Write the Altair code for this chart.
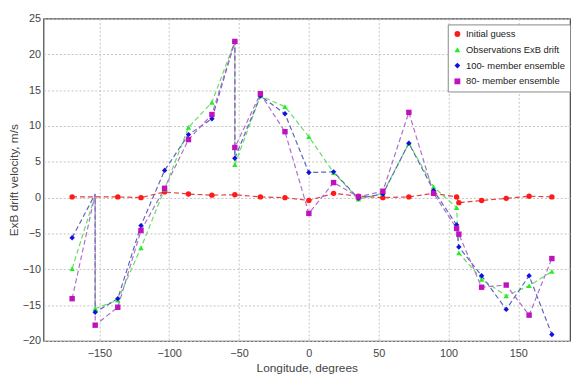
import altair as alt
import pandas as pd

# Initial guess (red)
lon_red = [-169.5, -136.8, -120.2, -103.3, -86.2, -69.4, -53, -34.7, -17.1, 0, 17.7,
           35.5, 53, 71.6, 89.3, 105.8, 107.4, 123.7, 141.3, 157.7, 174]
initial_guess = [0.1, 0.1, 0.0, 0.8, 0.5, 0.35, 0.4, 0.1, 0.0, -0.4, 0.6,
                 0.2, 0.0, 0.1, 0.6, 0.1, -0.7, -0.4, -0.1, 0.2, 0.1]

# Observations and ensembles share longitudes
lon_ens = [-169.5, -153, -153, -136.8, -120.2, -103.3, -86.2, -69.4, -53, -53, -34.7,
           -17.1, 0, 17.7, 35.5, 53, 71.6, 89.3, 105.8, 107.4, 123.7, 141.3, 157.7, 174]
observations = [-9.9, 0.3, -15.5, -14.3, -7.0, 1.2, 9.8, 13.3, 21.8, 4.6, 14.2,
                12.7, 8.5, 3.5, -0.2, 0.6, 7.6, 1.5, -1.4, -7.7, -11.4, -13.7, -12.3, -10.3]
ens100 = [-5.6, 0.5, -16.0, -14.1, -3.9, 3.8, 8.8, 11.0, 21.8, 5.5, 14.2,
          11.7, 3.5, 3.6, -0.1, 0.5, 7.6, 1.0, -3.8, -6.9, -10.9, -15.6, -10.9, -19.1]
ens80 = [-14.1, 0.5, -17.8, -15.3, -4.6, 1.3, 8.1, 11.6, 21.8, 7.0, 14.5,
         9.2, -2.2, 2.1, 0.1, 0.9, 11.9, 0.6, -4.3, -5.1, -12.5, -12.2, -16.4, -8.5]

series_names = ["Initial guess", "Observations ExB drift",
                "100- member ensemble", "80- member ensemble"]
marker_colors = ["#ff1a1a", "#22ee22", "#1010e0", "#c010c0"]
line_colors = ["#e04040", "#66dd66", "#5a66b8", "#b070c8"]
shapes = ["circle", "triangle-up", "diamond", "square"]

rows = []
for i, (x, v) in enumerate(zip(lon_red, initial_guess)):
    rows.append({"lon": x, "v": v, "series": series_names[0], "line": "L0", "idx": i, "mk": 1})
for k, (name, vals) in enumerate(zip(series_names[1:], [observations, ens100, ens80])):
    for i, (x, v) in enumerate(zip(lon_ens, vals)):
        rows.append({"lon": x, "v": v, "series": name, "line": "L%d" % (k + 1),
                     "idx": i, "mk": 0 if i == 1 else 1})
df = pd.DataFrame(rows)

xs = alt.X("lon:Q", scale=alt.Scale(domain=[-190, 187], nice=False, zero=False),
           axis=alt.Axis(values=[-150, -100, -50, 0, 50, 100, 150], title="Longitude, degrees",
                         labelPadding=7, titlePadding=4))
ys = alt.Y("v:Q", scale=alt.Scale(domain=[-20, 25], nice=False, zero=False),
           axis=alt.Axis(values=list(range(-20, 30, 5)), title="ExB drift velocity, m/s",
                         labelPadding=3, titlePadding=2))

base = alt.Chart(df)

lines = base.mark_line(strokeDash=[5, 3], strokeWidth=1.2).encode(
    x=xs, y=ys,
    stroke=alt.Stroke("line:N", scale=alt.Scale(domain=["L0", "L1", "L2", "L3"], range=line_colors),
                      legend=None),
    order="idx:Q",
)

points = base.mark_point(filled=True, size=30, opacity=1).encode(
    x=xs, y=ys,
    color=alt.Color("series:N", scale=alt.Scale(domain=series_names, range=marker_colors),
                    legend=alt.Legend(title=None, orient="none", legendX=410, legendY=6,
                                      padding=5, strokeColor="#888", fillColor="white",
                                      labelFontSize=9.5, symbolSize=35, rowPadding=5,
                                      labelColor="#222", labelFont="Liberation Sans")),
    shape=alt.Shape("series:N", scale=alt.Scale(domain=series_names, range=shapes)),
).transform_filter("datum.mk == 1")

chart = alt.layer(lines, points).properties(
    width=534, height=327,
    autosize=alt.AutoSizeParams(type="none"),
    padding={"left": 36, "top": 8, "right": 2, "bottom": 40},
).configure_view(stroke="#444", strokeWidth=1.2).configure_axis(
    grid=True, gridColor="#c4c4c4", gridDash=[2, 2], gridWidth=1,
    domain=False, ticks=False,
    labelFont="Liberation Sans", labelFontSize=11, labelColor="#444",
    titleFont="Liberation Sans", titleFontSize=12, titleFontWeight="normal", titleColor="#444",
)

chart.save("out.html", embed_options={"renderer": "svg", "actions": False})
